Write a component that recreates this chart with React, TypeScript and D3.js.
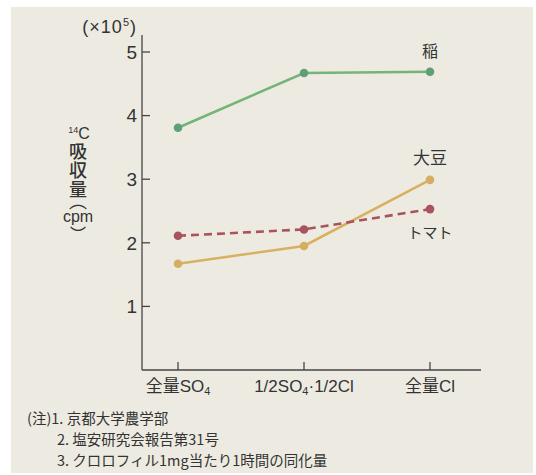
import { useMemo } from 'react';
import * as d3 from 'd3';

// 処理区分
const categories = ['全量SO4', '1/2SO4・1/2Cl', '全量Cl'];
// 14C吸収量 (×10^5 cpm)
const ineValues = [3.81, 4.67, 4.69];
const daizuValues = [1.67, 1.95, 2.99];
const tomatoValues = [2.11, 2.21, 2.53];
const yTicks = [1, 2, 3, 4, 5];
const titleParts = ['吸収量', '（', 'cpm', '）'];
const notes = ['(注)1. 京都大学農学部', '2. 塩安研究会報告第31号', '3. クロロフィル1mg当たり1時間の同化量'];

const series = [
  { name: '稲', values: ineValues, line: '#74b577', dot: '#5f9e78', dash: null as string | null, labelDy: -20, size: 16 },
  { name: '大豆', values: daizuValues, line: '#d8b160', dot: '#d4ae62', dash: null, labelDy: -22, size: 17 },
  { name: 'トマト', values: tomatoValues, line: '#a7545f', dot: '#a7545f', dash: '8,5', labelDy: 24, size: 15 },
];

const FONT = '"Liberation Sans", "Noto Sans CJK JP", sans-serif';
const JP = '"Noto Sans CJK JP", sans-serif';
const INK = '#333';

export default function App() {
  const W = 536;
  const H = 475;
  const x0 = 142;
  const x1 = 481;
  const yBase = 370;
  const yTop = 52;

  const x = useMemo(
    () => d3.scalePoint<string>().domain(categories).range([178, 430]),
    []
  );
  const y = useMemo(() => d3.scaleLinear().domain([0, 5]).range([yBase, yTop]), []);

  const line = d3
    .line<number>()
    .x((_, i) => x(categories[i]) as number)
    .y((d) => y(d));

  const sub = (main: string, s: string) => (
    <>
      {main}
      <tspan fontSize="11" dy="3">{s}</tspan>
    </>
  );

  const vertical = { writingMode: 'vertical-rl' as const };

  return (
    <svg width={W} height={H} style={{ position: 'absolute', left: 0, top: 0, display: 'block' }}>
      <rect x={0} y={0} width={W} height={H} fill="#fff" />
      <rect x={11} y={7} width={522} height={466} fill="#edebe1" />

      {/* 軸 */}
      <line x1={x0} y1={35} x2={x0} y2={yBase} stroke="#444" strokeWidth={1.3} />
      <line x1={x0} y1={yBase} x2={x1} y2={yBase} stroke="#444" strokeWidth={1.3} />
      {yTicks.map((t) => (
        <g key={t}>
          <line x1={x0} x2={x0 + 8} y1={y(t)} y2={y(t)} stroke="#444" strokeWidth={1.3} />
          <text x={x0 - 5} y={y(t)} dy="0.36em" textAnchor="end" fontSize="19" fill={INK} fontFamily={FONT}>
            {t}
          </text>
        </g>
      ))}
      {categories.map((c) => (
        <line key={c} x1={x(c)} x2={x(c)} y1={yBase} y2={yBase - 8} stroke="#444" strokeWidth={1.3} />
      ))}

      {/* 単位 */}
      <text x={137} y={33} textAnchor="end" fontSize="18" fill={INK} fontFamily={FONT} letterSpacing="1">
        (×10<tspan fontSize="11" dy="-7">5</tspan><tspan dy="7">)</tspan>
      </text>

      {/* 縦軸タイトル */}
      <g fill={INK}>
        <text x={79} y={139} textAnchor="middle" fontFamily={FONT} fontSize="16">
          <tspan fontSize="9" dy="-6">14</tspan>
          <tspan dy="6">C</tspan>
        </text>
        <text x={78} y={142} fontFamily={JP} fontSize="18" fontWeight="500" letterSpacing="1" style={vertical}>
          {titleParts[0]}
          <tspan dy="-7" fontWeight="normal">{titleParts[1]}</tspan>
        </text>
        <text x={78} y={222} textAnchor="middle" fontFamily={FONT} fontSize="16">
          {titleParts[2]}
        </text>
        <text x={78} y={226} fontFamily={JP} fontSize="16" style={vertical}>
          {titleParts[3]}
        </text>
      </g>

      {/* 横軸ラベル */}
      <g fontSize="17" fill={INK} textAnchor="middle" fontFamily={FONT}>
        <text x={x(categories[0])} y={392}>
          <tspan fontFamily={JP}>全量</tspan>{sub('SO', '4')}
        </text>
        <text x={x(categories[1])} y={392}>
          1/2{sub('SO', '4')}<tspan dy="-3">·1/2Cl</tspan>
        </text>
        <text x={x(categories[2])} y={392}>
          <tspan fontFamily={JP}>全量</tspan>Cl
        </text>
      </g>

      {/* 系列 */}
      {series.map((s) => (
        <g key={s.name}>
          <path
            d={line(s.values) || ''}
            fill="none"
            stroke={s.line}
            strokeWidth={2.6}
            strokeDasharray={s.dash || undefined}
          />
          {s.values.map((v, i) => (
            <circle key={i} cx={x(categories[i])} cy={y(v)} r={4.3} fill={s.dot} />
          ))}
          <text
            x={x(categories[2])}
            y={y(s.values[2]) + s.labelDy}
            textAnchor="middle"
            fontSize={s.size}
            fill={INK}
            fontFamily={JP}
            dy="0.35em"
          >
            {s.name}
          </text>
        </g>
      ))}

      {/* 注 */}
      <g fontFamily={JP} fontSize="14.5" fill={INK}>
        <text x={27} y={424}>{notes[0]}</text>
        <text x={57} y={445}>{notes[1]}</text>
        <text x={57} y={466}>{notes[2]}</text>
      </g>
    </svg>
  );
}
